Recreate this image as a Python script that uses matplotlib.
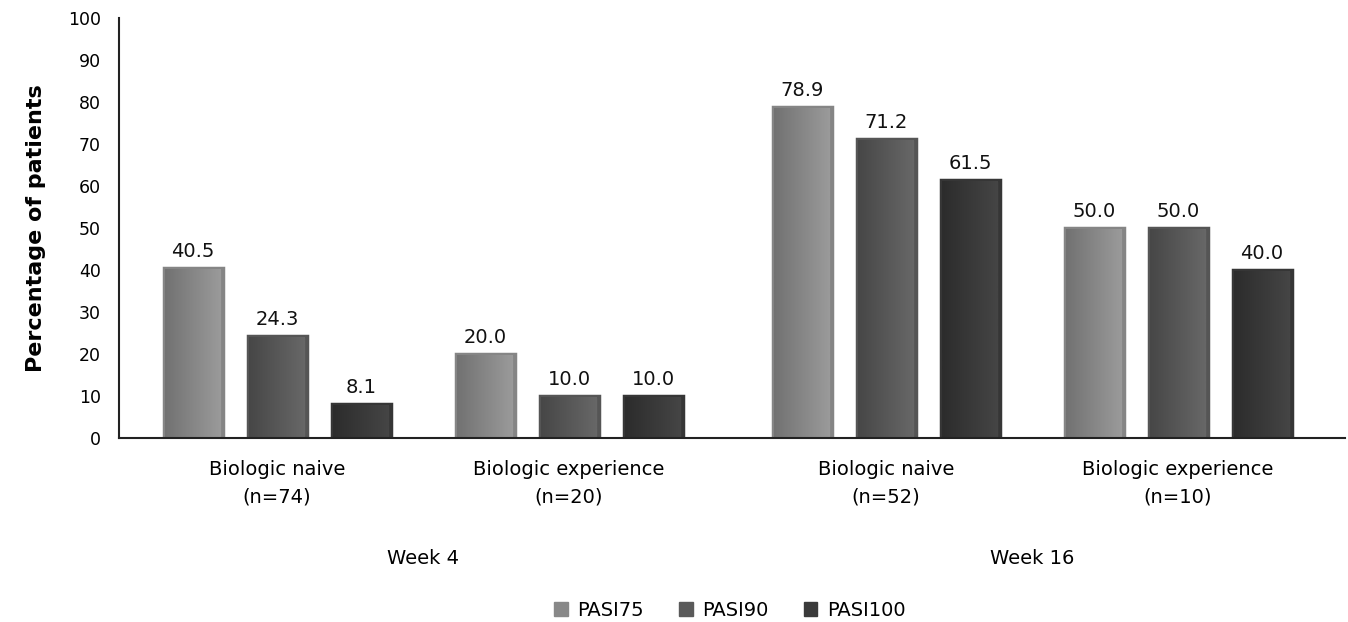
import matplotlib.pyplot as plt
import numpy as np
from matplotlib.colors import LinearSegmentedColormap

plt.rcParams['font.family'] = ['DejaVu Sans']

# data
groups = ['Biologic naive\n(n=74)', 'Biologic experience\n(n=20)',
          'Biologic naive\n(n=52)', 'Biologic experience\n(n=10)']
weeks = ['Week 4', 'Week 16']
series = ['PASI75', 'PASI90', 'PASI100']
pasi75 = [40.5, 20.0, 78.9, 50.0]
pasi90 = [24.3, 10.0, 71.2, 50.0]
pasi100 = [8.1, 10.0, 61.5, 40.0]
values = [pasi75, pasi90, pasi100]

# styling (left -> right gradient colours, edge colour)
grad = [('#727272', '#9a9a9a', '#858585'),
        ('#474747', '#676767', '#555555'),
        ('#2c2c2c', '#454545', '#363636')]
legend_cols = ['#888888', '#5a5a5a', '#3a3a3a']

fig = plt.figure(figsize=(13.48, 6.22), dpi=100)
ax = fig.add_axes([119 / 1348, 1 - 438 / 622, 1226 / 1348, 420 / 622])

centers = np.array([158, 450, 767, 1059])
offsets = [-84, 0, 84]
bw = 59
ax.set_xlim(0, 1226)
ax.set_ylim(0, 100)

for i, (vals, (c0, c1, ec)) in enumerate(zip(values, grad)):
    bars = ax.bar(centers + offsets[i], vals, width=bw, color=legend_cols[i],
                  edgecolor=ec, linewidth=2.5, label=series[i], zorder=2)
    cmap = LinearSegmentedColormap.from_list('g%d' % i, [c0, c1])
    for b, v in zip(bars, vals):
        x0 = b.get_x()
        ax.imshow(np.linspace(0, 1, 50).reshape(1, -1), cmap=cmap, aspect='auto',
                  extent=[x0 + 1.8, x0 + bw - 1.8, 0, v - 0.45], zorder=2.5)
        ax.text(x0 + bw / 2, v + 1.6, f'{v:.1f}', ha='center', va='bottom',
                fontsize=14, color='#111111')

ax.set_xlim(0, 1226)
ax.set_ylim(0, 100)
ax.set_yticks(range(0, 101, 10))
ax.tick_params(axis='y', length=0, pad=13, labelsize=12.5)
ax.set_xticks([])
for s in ['top', 'right']:
    ax.spines[s].set_visible(False)
for s in ['left', 'bottom']:
    ax.spines[s].set_linewidth(1.5)
    ax.spines[s].set_color('#222222')
    ax.spines[s].set_zorder(3)

for c, g in zip(centers, groups):
    ax.text(c, -5.3, g, ha='center', va='top', fontsize=14, linespacing=1.55,
            clip_on=False)
for k, w in enumerate(weeks):
    xc = (centers[2 * k] + centers[2 * k + 1]) / 2
    ax.text(xc, -26.5, w, ha='center', va='top', fontsize=14, clip_on=False)

ax.set_ylabel('Percentage of patients', fontsize=16, fontweight='bold', labelpad=16)

handles = [plt.Rectangle((0, 0), 1, 1, color=c) for c in legend_cols]
fig.legend(handles, series, loc='center', bbox_to_anchor=(730 / 1348, 1 - 610 / 622),
           ncol=3, frameon=False, fontsize=14, handlelength=0.7, handleheight=0.7,
           columnspacing=1.8, handletextpad=0.5)

fig.savefig('out.png', dpi=100, facecolor='white')
